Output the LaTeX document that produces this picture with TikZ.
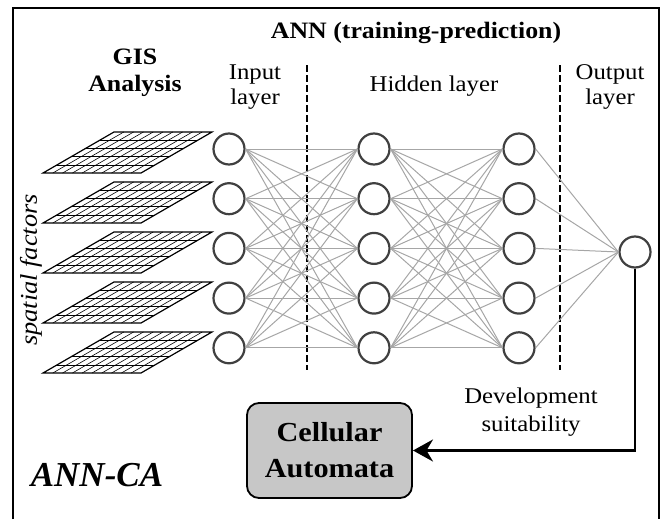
\documentclass[tikz,border=0pt]{standalone}
\usepackage{fontspec}
\setmainfont{Liberation Serif}
\usetikzlibrary{arrows.meta,calc}

\tikzset{
  neuron/.style={circle, draw=black!75, line width=2.2pt, fill=white, minimum size=31pt, inner sep=0pt},
  link/.style={draw=black!35, line width=1pt},
  divider/.style={line width=2pt, dash pattern=on 7pt off 3pt},
  head/.style={font=\fontsize{23.5}{27}\selectfont\bfseries, align=center, xscale=1.1, inner sep=0pt},
  label/.style={font=\fontsize{22.5}{25}\selectfont, align=center, xscale=1.1, inner sep=0pt},
  gridedge/.style={line width=1.2pt},
  gridline/.style={line width=0.6pt},
  feedback/.style={line width=2.4pt, -{Stealth[length=20pt, width=22pt]}},
  cabox/.style={draw, line width=1.8pt, rounded corners=12pt, fill=black!22,
    minimum width=150pt, minimum height=95pt, xscale=1.1,
    font=\fontsize{27.5}{36}\selectfont\bfseries, align=center}
}

\begin{document}
\begin{tikzpicture}[x=1pt, y=-1pt]
\useasboundingbox (0,0) rectangle (666,519);

% outer frame (open at the bottom edge)
\draw[line width=2pt] (13,519) -- (13,8) -- (659,8) -- (659,519);

% headings and layer labels
\node[head] (annhead) at (416,33) {ANN (training-prediction)};
\node[head] (gishead) at (135,73) {GIS\\Analysis};
\node[label] (inlab) at (255,87) {Input\\layer};
\node[label] (hidlab) at (434,86) {Hidden layer};
\node[label] (outlab) at (610,87) {Output\\layer};
\node[label, font=\fontsize{22.5}{28}\selectfont] (devlab) at (531,412) {Development\\suitability};
\node[font=\fontsize{24}{28}\selectfont\itshape, rotate=90, xscale=1.1, inner sep=0pt] (spat) at (31,270) {spatial factors};
\node[font=\fontsize{35}{40}\selectfont\bfseries\itshape, inner sep=0pt] (annca) at (97,475) {ANN-CA};

% layer separators
\draw[divider] (307,65) -- (307,370);
\draw[divider] (560,65) -- (560,370);

% spatial factor rasters
\foreach \i in {1,...,5} {
  \pgfmathsetmacro{\t}{132+50*(\i-1)}
  \foreach \j in {1,...,9}
    \draw[gridline] ({43+9.8*\j},{\t+41}) -- ({114+9.8*\j},\t);
  \foreach \k in {1,...,4}
    \draw[gridline] ({43+14.2*\k},{\t+41-8.2*\k}) -- ({141+14.2*\k},{\t+41-8.2*\k});
  \draw[gridedge] (43,{\t+41}) -- (141,{\t+41}) -- (212,\t) -- (114,\t) -- cycle;
}

% neurons
\foreach \i in {1,...,5} {
  \pgfmathsetmacro{\y}{149+49.7*(\i-1)}
  \node[neuron] (a\i) at (229,\y) {};
  \node[neuron] (b\i) at (374,\y) {};
  \node[neuron] (c\i) at (519,\y) {};
}
\node[neuron] (out) at (635,252) {};

% weighted connections
\foreach \i in {1,...,5} {
  \foreach \j in {1,...,5} {
    \draw[link] (a\i.east) -- (b\j.west);
    \draw[link] (b\i.east) -- (c\j.west);
  }
  \draw[link] (c\i.east) -- (out.west);
}

% cellular automata block and feedback arrow
\node[cabox] (ca) at (329.5,450.5) {Cellular\\Automata};
\draw[feedback] (out.south) |- (ca.east);
\end{tikzpicture}
\end{document}
